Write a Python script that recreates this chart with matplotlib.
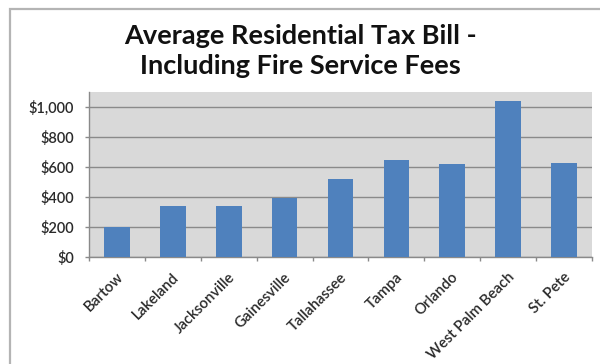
import matplotlib
matplotlib.use("Agg")
import matplotlib.pyplot as plt
from matplotlib.ticker import FuncFormatter, FixedLocator
from matplotlib.patches import Rectangle
from matplotlib.transforms import ScaledTranslation

cities = ["Bartow", "Lakeland", "Jacksonville", "Gainesville", "Tallahassee",
          "Tampa", "Orlando", "West Palm Beach", "St. Pete"]
tax_bill = [200, 343, 343, 395, 520, 647, 618, 1038, 629]
y_ticks = [0, 200, 400, 600, 800, 1000]

plt.rcParams["font.family"] = ["Lato", "DejaVu Sans"]

fig = plt.figure(figsize=(6.0, 3.64), dpi=100)

# outer frame lines (top and left edges of the chart box)
fig.add_artist(Rectangle((10 / 600, -0.1), 1.2, 1 - 9 / 364 + 0.1,
                         transform=fig.transFigure, fill=False,
                         edgecolor="#b4b4b4", linewidth=1.6))

ax = fig.add_axes([89 / 600, 1 - 257 / 364, (592 - 89) / 600, (257 - 92) / 364])
ax.set_facecolor("#d9d9d9")

x = list(range(len(cities)))
ax.bar(x, tax_bill, width=0.46, color="#4f81bd", zorder=3)

ax.set_xlim(-0.5, len(cities) - 0.5)
ax.set_ylim(0, 1100)
ax.set_yticks(y_ticks)
ax.yaxis.set_major_formatter(FuncFormatter(lambda v, p: f"${v:,.0f}"))
ax.grid(axis="y", color="#8a8a8a", linewidth=1.0, zorder=1)

ax.set_xticks(x)
ax.set_xticklabels(cities, rotation=45, ha="right", va="center",
                   rotation_mode="anchor", fontsize=10.8, color="#2a2a2a")
ax.tick_params(axis="x", which="major", length=0, pad=13)
ax.xaxis.set_minor_locator(FixedLocator([i - 0.5 for i in range(len(cities) + 1)]))
ax.tick_params(axis="x", which="minor", length=3, color="#8a8a8a", width=1)
ax.tick_params(axis="y", length=3, color="#8a8a8a", width=1,
               labelsize=10.5, labelcolor="#2a2a2a", pad=8)
shift = ScaledTranslation(4 / 100, 0, fig.dpi_scale_trans)
for lbl in ax.get_xticklabels():
    lbl.set_fontweight("semibold")
    lbl.set_transform(lbl.get_transform() + shift)
for lbl in ax.get_yticklabels():
    lbl.set_fontweight("semibold")

for side in ("top", "right"):
    ax.spines[side].set_visible(False)
for side in ("left", "bottom"):
    ax.spines[side].set_color("#8a8a8a")
    ax.spines[side].set_linewidth(1)

fig.text(0.5, 1 - 51 / 364, "Average Residential Tax Bill -\nIncluding Fire Service Fees",
         ha="center", va="center", fontsize=19.5, fontweight="bold",
         color="#111111", linespacing=1.25)

fig.savefig("out.png", dpi=100)
